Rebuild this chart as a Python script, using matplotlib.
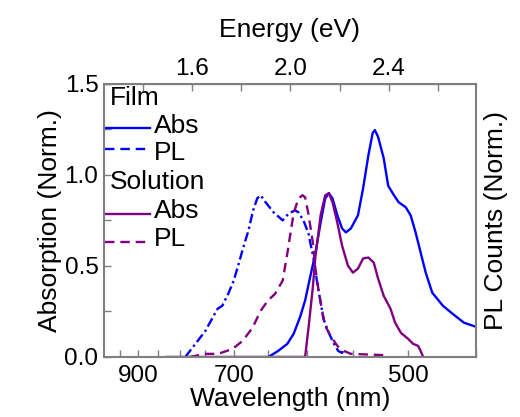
import numpy as np
import matplotlib
matplotlib.use("Agg")
import matplotlib.pyplot as plt
from matplotlib.lines import Line2D

plt.rcParams['font.family'] = ['Liberation Sans', 'DejaVu Sans']

# Film absorption
film_abs_nm = [649, 636, 624, 616, 608, 602, 596, 590, 584, 579, 575, 571, 566,
               561, 557, 552, 545, 540, 535, 531, 529, 526, 521, 517, 512, 508,
               502, 498, 494, 490, 486, 481, 473, 466, 458, 450]
film_abs = [0.0, 0.033, 0.072, 0.127, 0.22, 0.31, 0.44, 0.57, 0.74, 0.87, 0.90,
            0.87, 0.78, 0.706, 0.684, 0.706, 0.778, 0.927, 1.108, 1.23, 1.246,
            1.208, 1.092, 0.94, 0.888, 0.85, 0.822, 0.778, 0.684, 0.574, 0.463,
            0.353, 0.281, 0.237, 0.188, 0.166]

# Film photoluminescence
film_pl_nm = [789, 769, 750, 737, 728, 720, 710, 701, 693, 686, 678, 671, 665,
              660, 653, 642, 630, 622, 614, 610, 604, 598, 596, 592, 588, 584,
              581, 575, 570, 565, 561, 559]
film_pl = [0.0, 0.072, 0.143, 0.215, 0.265, 0.281, 0.347, 0.419, 0.513, 0.601,
           0.695, 0.805, 0.871, 0.888, 0.849, 0.794, 0.75, 0.789, 0.805, 0.794,
           0.75, 0.678, 0.629, 0.541, 0.408, 0.298, 0.21, 0.132, 0.077, 0.033,
           0.022, 0.044]

# Solution absorption
sol_abs_nm = [830, 700, 602, 598, 593, 590, 584, 579, 575, 571, 566, 561, 555,
              550, 545, 540, 535, 530, 526, 521, 515, 511, 506, 500, 496, 492,
              490, 488]
sol_abs = [0.0, 0.0, 0.0, 0.16, 0.38, 0.55, 0.78, 0.888, 0.899, 0.849, 0.739,
           0.612, 0.502, 0.463, 0.485, 0.541, 0.546, 0.518, 0.43, 0.336, 0.265,
           0.188, 0.132, 0.099, 0.072, 0.061, 0.033, 0.0]

# Solution photoluminescence
sol_pl_nm = [780, 750, 727, 703, 687, 672, 660, 650, 640, 630, 624, 620, 616,
             610, 605, 602, 598, 593, 590, 586, 582, 579, 573, 566, 559, 552, 521]
sol_pl = [0.0, 0.017, 0.017, 0.044, 0.088, 0.16, 0.254, 0.309, 0.347, 0.419,
          0.568, 0.678, 0.789, 0.871, 0.888, 0.877, 0.783, 0.629, 0.485, 0.353,
          0.243, 0.171, 0.115, 0.061, 0.033, 0.017, 0.01]

wl_ticks = [950, 900, 850, 800, 750, 700, 650, 600, 550, 500, 450]
wl_labels = ['', '900', '', '', '', '700', '', '', '', '500', '']
ev_ticks = [1.4, 1.6, 1.8, 2.0, 2.2, 2.4, 2.6]
ev_labels = ['', '1.6', '', '2.0', '', '2.4', '']

HC = 1240.0
BLUE = '#0000ff'
PURPLE = '#800080'
GRAY = '#7f7f7f'
TICK_FS = 17.5
LABEL_FS = 19
LEGEND_FS = 19


def to_ev(nm):
    return HC / np.asarray(nm, dtype=float)


fig = plt.figure(figsize=(5.2, 4.17), dpi=100)
ax = fig.add_axes([0.2, 0.144, 0.715, 0.655])

lw = 1.7
style = dict(lw=lw, solid_joinstyle='round', dash_joinstyle='round')
ax.plot(to_ev(film_abs_nm), film_abs, color=BLUE, **style)
ax.plot(to_ev(film_pl_nm), film_pl, color=BLUE, ls=(0, (4, 1.5, 1, 1.5)), **style)
ax.plot(to_ev(sol_abs_nm), sol_abs, color=PURPLE, **style)
ax.plot(to_ev(sol_pl_nm), sol_pl, color=PURPLE, ls=(0, (4, 2.5)), **style)

ax.set_xlim(HC / 1000, HC / 450)
ax.set_ylim(0, 1.5)

ax.set_xticks(to_ev(wl_ticks))
ax.set_xticklabels(wl_labels)
ax.set_yticks([0, 0.5, 1.0, 1.5])
ax.set_yticklabels(['0.0', '0.5', '1.0', '1.5'])
ax.set_yticks([0.25, 0.75, 1.25], minor=True)
ax.tick_params(axis='both', which='both', direction='in', color=GRAY,
               width=1.0, length=5, labelsize=TICK_FS)
ax.tick_params(axis='x', pad=6)
ax.tick_params(axis='y', pad=4, right=True)
for s in ax.spines.values():
    s.set_color(GRAY)
    s.set_linewidth(1.5)

top = ax.secondary_xaxis('top')
top.set_xticks(ev_ticks)
top.set_xticklabels(ev_labels)
top.tick_params(direction='in', color=GRAY, width=1.0, length=5,
                labelsize=TICK_FS, pad=3)
top.set_xlabel('Energy (eV)', fontsize=LABEL_FS, labelpad=15)

ax.set_xlabel('Wavelength (nm)', fontsize=LABEL_FS, labelpad=0)
ax.set_ylabel('Absorption (Norm.)', fontsize=LABEL_FS, labelpad=2)

rax = ax.twinx()
rax.set_ylim(0, 1.5)
rax.set_yticks([])
for s in rax.spines.values():
    s.set_visible(False)
rax.set_ylabel('PL Counts (Norm.)', fontsize=LABEL_FS, labelpad=6)


# Hand-built legend with group headings (pixel positions inside the axes box)
def yfrac(py):
    return (357 - py) / (357 - 84)


def xfrac(px):
    return (px - 104) / (476 - 104)


ax.text(xfrac(110), yfrac(98), 'Film', fontsize=LEGEND_FS, va='center',
        ha='left', transform=ax.transAxes)
ax.text(xfrac(110), yfrac(182), 'Solution', fontsize=LEGEND_FS, va='center',
        ha='left', transform=ax.transAxes)
entries = [
    (126, 128, BLUE, '-', 'Abs'),
    (153, 149, BLUE, (0, (4, 2.5)), 'PL'),
    (211, 214, PURPLE, '-', 'Abs'),
    (239, 242, PURPLE, (0, (4, 2.5)), 'PL'),
]
for ty, ly, col, ls, lab in entries:
    ax.add_line(Line2D([xfrac(105), xfrac(150)], [yfrac(ly), yfrac(ly)],
                       transform=ax.transAxes, color=col, lw=lw, ls=ls))
    ax.text(xfrac(154), yfrac(ty), lab, fontsize=LEGEND_FS, va='center',
            ha='left', transform=ax.transAxes)

fig.savefig('out.png', dpi=100)
